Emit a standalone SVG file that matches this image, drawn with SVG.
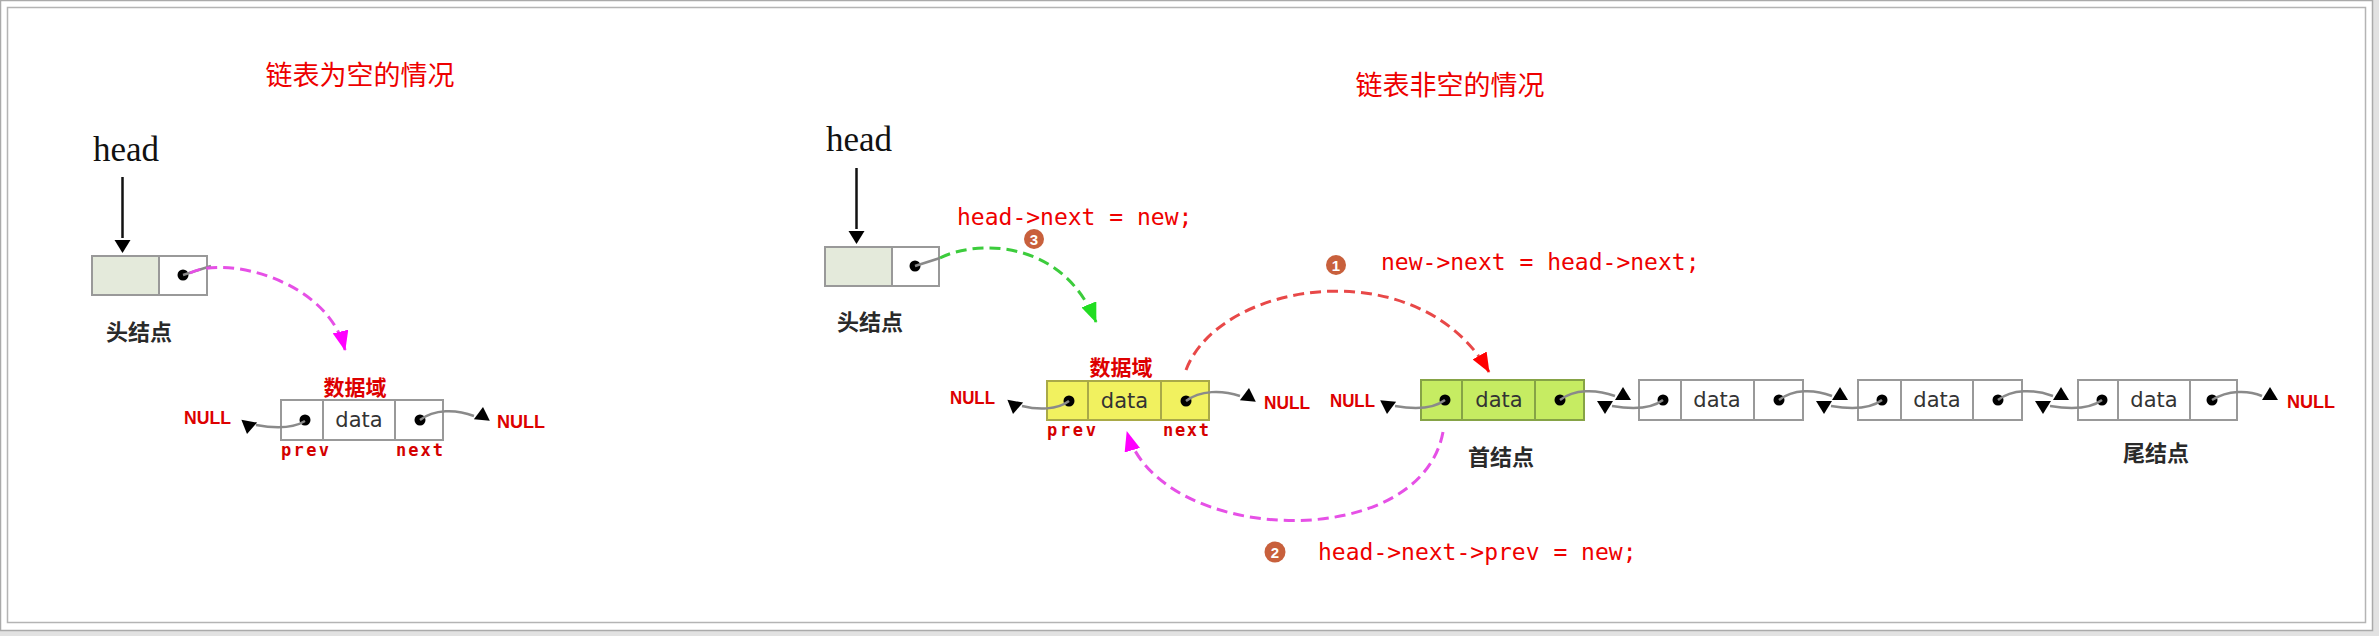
<svg xmlns="http://www.w3.org/2000/svg" xmlns:xlink="http://www.w3.org/1999/xlink" width="2379" height="636" viewBox="0 0 2379 636">
<style>
.cell{stroke:#999;stroke-width:2}
.w{fill:#fff}
.hd{fill:#e4eadb}
.yl{fill:#f1f15f;stroke:#a9a948}
.gr{fill:#c6ec62;stroke:#86a346}
.dot{fill:#000}
.gc{fill:none;stroke:#8a8a8a;stroke-width:2.5}
.tri{fill:#000}
.title{font-family:"Noto Sans CJK SC","Noto Sans",sans-serif;font-size:27px;fill:#ee0000}
.lbl{font-family:"Noto Sans CJK SC","Noto Sans",sans-serif;font-size:22px;font-weight:bold;fill:#2a2a2a}
.dom{font-family:"Noto Sans CJK SC","Noto Sans",sans-serif;font-size:21px;font-weight:bold;fill:#dd0000}
.head{font-family:"Liberation Serif","Times New Roman",serif;font-size:35px;fill:#111}
.data{font-family:"DejaVu Sans",sans-serif;font-size:21px;fill:#333;text-anchor:middle}
.pn{font-family:"DejaVu Sans Mono",monospace;font-size:17px;font-weight:bold;fill:#d40000}
.null{font-family:"Liberation Sans",Arial,sans-serif;font-size:18px;font-weight:bold;fill:#dd0000}
.code{font-family:"DejaVu Sans Mono","Liberation Mono",monospace;font-size:23px;fill:#ee0000}
.num{fill:#c8603c}
.numt{font-family:"Liberation Sans",Arial,sans-serif;font-size:15px;font-weight:bold;fill:#fff;text-anchor:middle}
.dm{fill:none;stroke:#e650e6;stroke-width:3;stroke-dasharray:11 6}
.dg{fill:none;stroke:#3ccc3c;stroke-width:3;stroke-dasharray:11 6}
.dr{fill:none;stroke:#e84848;stroke-width:3;stroke-dasharray:11 6}
</style>
<defs>
<path id="tri" d="M0,0 L8,13 L-8,13 Z"/>
<marker id="am" markerUnits="userSpaceOnUse" viewBox="0 0 20 16" markerWidth="20" markerHeight="16" refX="19" refY="8" orient="auto"><path d="M0,0 L20,8 L0,16 Z" fill="#ff00ff"/></marker>
<marker id="ag" markerUnits="userSpaceOnUse" viewBox="0 0 20 16" markerWidth="20" markerHeight="16" refX="19" refY="8" orient="auto"><path d="M0,0 L20,8 L0,16 Z" fill="#22dd22"/></marker>
<marker id="ar" markerUnits="userSpaceOnUse" viewBox="0 0 20 16" markerWidth="20" markerHeight="16" refX="19" refY="8" orient="auto"><path d="M0,0 L20,8 L0,16 Z" fill="#ff0000"/></marker>
</defs>

<!-- frame -->
<rect x="0" y="0" width="2379" height="636" fill="#e2e2e2"/>
<rect x="0.5" y="0.5" width="2372" height="630" fill="#fff" stroke="#aaa" stroke-width="1.5"/>
<rect x="7.5" y="7.5" width="2358" height="615" fill="#fff" stroke="#b4b4b4" stroke-width="1.5"/>

<!-- titles -->
<text class="title" x="360" y="85" text-anchor="middle">链表为空的情况</text>
<text class="title" x="1450" y="95" text-anchor="middle">链表非空的情况</text>

<!-- ===== left: empty list ===== -->
<g id="head-label-left">
<text class="head" x="93" y="161">head</text>
<line x1="122.5" y1="177" x2="122.5" y2="238" stroke="#111" stroke-width="2.5"/>
<use href="#tri" transform="translate(122.5,253) rotate(180)"/>
</g>
<g id="head-node-left">
<rect class="cell hd" x="92" y="256" width="67" height="39"/>
<rect class="cell w" x="159" y="256" width="48" height="39"/>
<circle class="dot" cx="183" cy="275" r="5.5"/>
<text class="lbl" x="106" y="340">头结点</text>
</g>
<g id="new-node-left">
<text class="dom" x="355" y="395" text-anchor="middle">数据域</text>
<rect class="cell w" x="281" y="400" width="42" height="40"/>
<rect class="cell w" x="323" y="400" width="72" height="40"/>
<rect class="cell w" x="395" y="400" width="48" height="40"/>
<circle class="dot" cx="305" cy="420" r="5.5"/>
<circle class="dot" cx="420" cy="420" r="5.5"/>
<text class="data" x="359" y="427">data</text>
<text class="pn" x="281" y="456" textLength="48">prev</text>
<text class="pn" x="396" y="456" textLength="47">next</text>
</g>
<g id="null-left-1"><text class="null" x="184" y="424" textLength="47" lengthAdjust="spacingAndGlyphs">NULL</text></g>
<g id="null-left-2"><text class="null" x="497" y="428" textLength="48" lengthAdjust="spacingAndGlyphs">NULL</text></g>

<!-- ===== right: non-empty list ===== -->
<g id="head-label-right">
<text class="head" x="826" y="151">head</text>
<line x1="856.5" y1="168" x2="856.5" y2="229" stroke="#111" stroke-width="2.5"/>
<use href="#tri" transform="translate(856.5,244) rotate(180)"/>
</g>
<g id="head-node-right">
<rect class="cell hd" x="825" y="247" width="67" height="39"/>
<rect class="cell w" x="892" y="247" width="47" height="39"/>
<circle class="dot" cx="915" cy="266" r="5.5"/>
<text class="lbl" x="837" y="330">头结点</text>
</g>
<g id="new-node">
<text class="dom" x="1121" y="375" text-anchor="middle">数据域</text>
<rect class="cell yl" x="1047" y="381" width="41" height="39"/>
<rect class="cell yl" x="1088" y="381" width="73" height="39"/>
<rect class="cell yl" x="1161" y="381" width="48" height="39"/>
<circle class="dot" cx="1069" cy="401" r="5.5"/>
<circle class="dot" cx="1186" cy="401" r="5.5"/>
<text class="data" x="1124.5" y="408">data</text>
<text class="pn" x="1047" y="436" textLength="49">prev</text>
<text class="pn" x="1163" y="436" textLength="46">next</text>
</g>
<g id="null-r1"><text class="null" x="950" y="404" textLength="45" lengthAdjust="spacingAndGlyphs">NULL</text></g>
<g id="null-r2"><text class="null" x="1264" y="409" textLength="46" lengthAdjust="spacingAndGlyphs">NULL</text></g>
<g id="null-r3"><text class="null" x="1330" y="407" textLength="45" lengthAdjust="spacingAndGlyphs">NULL</text></g>
<g id="first-node">
<rect class="cell gr" x="1421" y="380" width="41" height="40"/>
<rect class="cell gr" x="1462" y="380" width="73" height="40"/>
<rect class="cell gr" x="1535" y="380" width="49" height="40"/>
<circle class="dot" cx="1445" cy="400" r="5.5"/>
<circle class="dot" cx="1560" cy="400" r="5.5"/>
<text class="data" x="1499" y="407">data</text>
<text class="lbl" x="1468" y="465">首结点</text>
</g>
<g id="node-2">
<rect class="cell w" x="1639" y="380" width="42" height="40"/>
<rect class="cell w" x="1681" y="380" width="73" height="40"/>
<rect class="cell w" x="1754" y="380" width="49" height="40"/>
<circle class="dot" cx="1663" cy="400" r="5.5"/>
<circle class="dot" cx="1779" cy="400" r="5.5"/>
<text class="data" x="1717" y="407">data</text>
</g>
<g id="node-3">
<rect class="cell w" x="1858" y="380" width="43" height="40"/>
<rect class="cell w" x="1901" y="380" width="72" height="40"/>
<rect class="cell w" x="1973" y="380" width="49" height="40"/>
<circle class="dot" cx="1882" cy="400" r="5.5"/>
<circle class="dot" cx="1998" cy="400" r="5.5"/>
<text class="data" x="1937" y="407">data</text>
</g>
<g id="tail-node">
<rect class="cell w" x="2078" y="380" width="40" height="40"/>
<rect class="cell w" x="2118" y="380" width="72" height="40"/>
<rect class="cell w" x="2190" y="380" width="47" height="40"/>
<circle class="dot" cx="2102" cy="400" r="5.5"/>
<circle class="dot" cx="2212" cy="400" r="5.5"/>
<text class="data" x="2154" y="407">data</text>
<text class="lbl" x="2123" y="461">尾结点</text>
</g>
<g id="null-tail"><text class="null" x="2287" y="408" textLength="48" lengthAdjust="spacingAndGlyphs">NULL</text></g>

<g id="step-labels">
<text class="code" x="957" y="225">head-&gt;next = new;</text>
<circle class="num" cx="1034" cy="239" r="10"/><text class="numt" x="1034" y="244.5">3</text>
<circle class="num" cx="1336" cy="265" r="10"/><text class="numt" x="1336" y="270.5">1</text>
<text class="code" x="1381" y="270">new-&gt;next = head-&gt;next;</text>
<circle class="num" cx="1275" cy="552" r="10.5"/><text class="numt" x="1275" y="557.5">2</text>
<text class="code" x="1318" y="560">head-&gt;next-&gt;prev = new;</text>
</g>

<!-- connectors -->
<g id="connectors">
<!-- left grey links -->
<path class="gc" d="M183,275 L211,266"/>
<path class="gc" d="M305,421 C292,429 272,428 256,425"/>
<use class="tri" href="#tri" transform="translate(247,434) rotate(190)"/>
<path class="gc" d="M420,420 C434,409 456,409 474,416"/>
<use class="tri" href="#tri" transform="translate(483,407) rotate(5)"/>
<path class="dm" d="M190,273 C225,255 328,280 345,350" marker-end="url(#am)"/>

<!-- right grey links -->
<path class="gc" d="M915,266 L940,258"/>
<path class="gc" d="M1069,401 C1057,410 1038,410 1022,406"/>
<use class="tri" href="#tri" transform="translate(1013,414) rotate(190)"/>
<path class="gc" d="M1186,401 C1200,390 1222,390 1240,396"/>
<use class="tri" href="#tri" transform="translate(1249,388) rotate(5)"/>
<path class="gc" d="M1445,400 C1432,410 1412,409 1395,406"/>
<use class="tri" href="#tri" transform="translate(1387,414) rotate(185)"/>

<path class="gc" d="M1560,400 C1574,389 1596,389 1615,396"/>
<use class="tri" href="#tri" transform="translate(1623,387)"/>
<path class="gc" d="M1663,400 C1650,410 1630,409 1612,406"/>
<use class="tri" href="#tri" transform="translate(1605,414) rotate(180)"/>

<path class="gc" d="M1779,400 C1793,389 1814,389 1832,396"/>
<use class="tri" href="#tri" transform="translate(1840,387)"/>
<path class="gc" d="M1882,400 C1869,410 1849,409 1831,406"/>
<use class="tri" href="#tri" transform="translate(1824,414) rotate(180)"/>

<path class="gc" d="M1998,400 C2012,389 2034,389 2053,396"/>
<use class="tri" href="#tri" transform="translate(2061,387)"/>
<path class="gc" d="M2102,400 C2089,410 2069,409 2050,406"/>
<use class="tri" href="#tri" transform="translate(2043,414) rotate(180)"/>

<path class="gc" d="M2212,400 C2228,390 2248,390 2262,396"/>
<use class="tri" href="#tri" transform="translate(2270,387)"/>

<!-- dashed steps -->
<path class="dg" d="M940,258 C975,240 1062,238 1096,322" marker-end="url(#ag)"/>
<path class="dr" d="M1186,370 C1220,280 1420,250 1489,372" marker-end="url(#ar)"/>
<path class="dm" d="M1443,432 C1420,555 1160,545 1127,432" marker-end="url(#am)"/>
</g>
</svg>
